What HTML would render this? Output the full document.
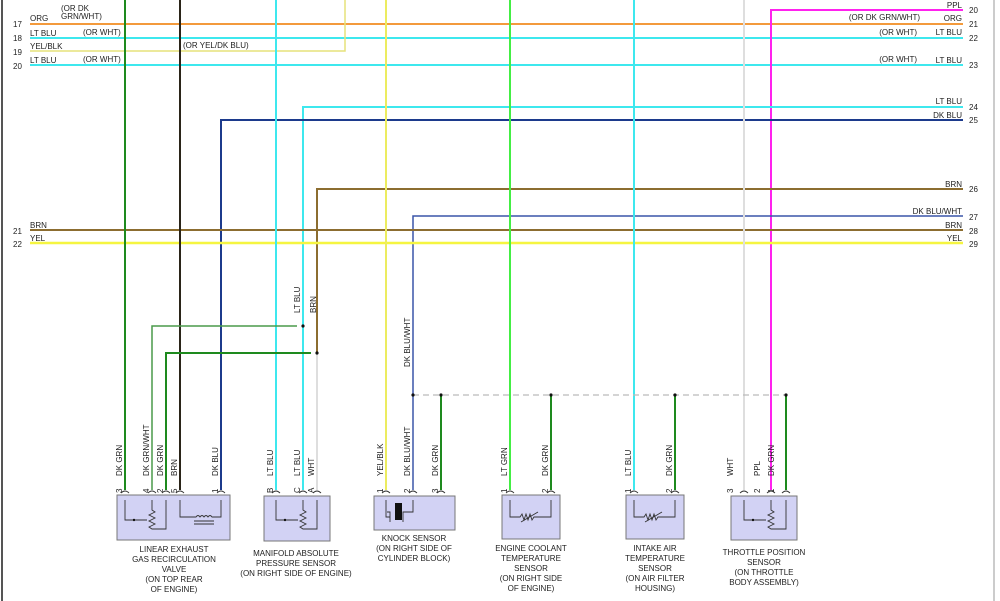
<!DOCTYPE html>
<html><head><meta charset="utf-8"><style>
html,body{margin:0;padding:0;background:#fff}
svg{display:block}
text{font-family:"Liberation Sans",sans-serif;font-size:8px;fill:#222}
.c{text-anchor:middle}
.r{text-anchor:end}
</style></head><body>
<svg width="1000" height="601" viewBox="0 0 1000 601" xmlns="http://www.w3.org/2000/svg">
<rect x="0" y="0" width="1000" height="601" fill="#fff"/>
<line x1="2" y1="0" x2="2" y2="601" stroke="#555" stroke-width="2"/>
<line x1="994" y1="0" x2="994" y2="601" stroke="#bbb" stroke-width="1.5"/>

<g stroke-width="2" fill="none">
<line x1="30" y1="24" x2="963" y2="24" stroke="#f39a3c"/>
<line x1="30" y1="38" x2="963" y2="38" stroke="#3ee8ee"/>
<polyline points="30,51 345,51 345,0" stroke="#e6e27a" stroke-width="1.5"/>
<line x1="30" y1="65" x2="963" y2="65" stroke="#3ee8ee"/>
<polyline points="771,490 771,10 963,10" stroke="#ff22ee"/>
<polyline points="303,490 303,107 963,107" stroke="#3ee8ee"/>
<polyline points="221,490 221,120 963,120" stroke="#1c3a8c"/>
<polyline points="317,353 317,189 963,189" stroke="#8c6d30"/>
<polyline points="413,395 413,216 963,216" stroke="#3a55a8" stroke-width="1.5"/>
<line x1="30" y1="230" x2="963" y2="230" stroke="#8c6d30"/>
<line x1="30" y1="243" x2="963" y2="243" stroke="#f5f540" stroke-width="2.5"/>
</g>
<g stroke-width="2" fill="none">
<line x1="125" y1="0" x2="125" y2="490" stroke="#1e8a1e"/>
<line x1="180" y1="0" x2="180" y2="490" stroke="#2a2418"/>
<line x1="276" y1="0" x2="276" y2="490" stroke="#3ee8ee"/>
<line x1="317" y1="353" x2="317" y2="490" stroke="#dedede"/>
<line x1="386" y1="0" x2="386" y2="490" stroke="#ecec60"/>
<line x1="413" y1="395" x2="413" y2="490" stroke="#3a55a8" stroke-width="1.5"/>
<line x1="441" y1="395" x2="441" y2="490" stroke="#1e8a1e"/>
<line x1="510" y1="0" x2="510" y2="490" stroke="#44ee44"/>
<line x1="551" y1="395" x2="551" y2="490" stroke="#1e8a1e"/>
<line x1="634" y1="0" x2="634" y2="490" stroke="#3ee8ee"/>
<line x1="675" y1="395" x2="675" y2="490" stroke="#1e8a1e"/>
<line x1="744" y1="0" x2="744" y2="490" stroke="#dedede"/>
<line x1="786" y1="395" x2="786" y2="490" stroke="#1e8a1e"/>
<polyline points="297,326 152,326 152,490" stroke="#4a9a4a" stroke-width="1.5"/>
<polyline points="311,353 166,353 166,490" stroke="#1e8a1e"/>
</g>
<line x1="413" y1="395" x2="786" y2="395" stroke="#bbb" stroke-width="1.3" stroke-dasharray="6,4"/>
<g fill="#111">
<circle cx="303" cy="326" r="1.6"/><circle cx="317" cy="353" r="1.6"/>
<circle cx="413" cy="395" r="1.6"/><circle cx="441" cy="395" r="1.6"/><circle cx="551" cy="395" r="1.6"/><circle cx="675" cy="395" r="1.6"/><circle cx="786" cy="395" r="1.6"/>
</g>

<text x="13" y="27">17</text><text x="30" y="21">ORG</text>
<text x="61" y="11">(OR DK</text><text x="61" y="19">GRN/WHT)</text>
<text x="13" y="41">18</text><text x="30" y="36">LT BLU</text><text x="83" y="35">(OR WHT)</text>
<text x="13" y="55">19</text><text x="30" y="49">YEL/BLK</text><text x="183" y="48">(OR YEL/DK BLU)</text>
<text x="13" y="69">20</text><text x="30" y="63">LT BLU</text><text x="83" y="62">(OR WHT)</text>
<text x="13" y="234">21</text><text x="30" y="228">BRN</text>
<text x="13" y="247">22</text><text x="30" y="241">YEL</text>
<text x="969" y="13">20</text><text class="r" x="962" y="8">PPL</text>
<text x="969" y="27">21</text><text class="r" x="962" y="21">ORG</text><text class="r" x="920" y="20">(OR DK GRN/WHT)</text>
<text x="969" y="41">22</text><text class="r" x="962" y="35">LT BLU</text><text class="r" x="917" y="35">(OR WHT)</text>
<text x="969" y="68">23</text><text class="r" x="962" y="63">LT BLU</text><text class="r" x="917" y="62">(OR WHT)</text>
<text x="969" y="110">24</text><text class="r" x="962" y="104">LT BLU</text>
<text x="969" y="123">25</text><text class="r" x="962" y="118">DK BLU</text>
<text x="969" y="192">26</text><text class="r" x="962" y="187">BRN</text>
<text x="969" y="220">27</text><text class="r" x="962" y="214">DK BLU/WHT</text>
<text x="969" y="234">28</text><text class="r" x="962" y="228">BRN</text>
<text x="969" y="247">29</text><text class="r" x="962" y="241">YEL</text>

<text transform="translate(300,313) rotate(-90)">LT BLU</text>
<text transform="translate(316,313) rotate(-90)">BRN</text>
<text transform="translate(410,367) rotate(-90)">DK BLU/WHT</text>

<g>
<text transform="translate(122,476) rotate(-90)">DK GRN</text>
<text transform="translate(149,476) rotate(-90)">DK GRN/WHT</text>
<text transform="translate(163,476) rotate(-90)">DK GRN</text>
<text transform="translate(177,476) rotate(-90)">BRN</text>
<text transform="translate(218,476) rotate(-90)">DK BLU</text>
<text transform="translate(273,476) rotate(-90)">LT BLU</text>
<text transform="translate(300,476) rotate(-90)">LT BLU</text>
<text transform="translate(314,476) rotate(-90)">WHT</text>
<text transform="translate(383,476) rotate(-90)">YEL/BLK</text>
<text transform="translate(410,476) rotate(-90)">DK BLU/WHT</text>
<text transform="translate(438,476) rotate(-90)">DK GRN</text>
<text transform="translate(507,476) rotate(-90)">LT GRN</text>
<text transform="translate(548,476) rotate(-90)">DK GRN</text>
<text transform="translate(631,476) rotate(-90)">LT BLU</text>
<text transform="translate(672,476) rotate(-90)">DK GRN</text>
<text transform="translate(733,476) rotate(-90)">WHT</text>
<text transform="translate(760,476) rotate(-90)">PPL</text>
<text transform="translate(774,476) rotate(-90)">DK GRN</text>
</g>
<g>
<text transform="translate(122,493) rotate(-90)">3</text>
<text transform="translate(149,493) rotate(-90)">4</text>
<text transform="translate(163,493) rotate(-90)">2</text>
<text transform="translate(177,493) rotate(-90)">5</text>
<text transform="translate(218,493) rotate(-90)">1</text>
<text transform="translate(273,493) rotate(-90)">B</text>
<text transform="translate(300,493) rotate(-90)">C</text>
<text transform="translate(314,493) rotate(-90)">A</text>
<text transform="translate(383,493) rotate(-90)">1</text>
<text transform="translate(410,493) rotate(-90)">2</text>
<text transform="translate(438,493) rotate(-90)">3</text>
<text transform="translate(507,493) rotate(-90)">1</text>
<text transform="translate(548,493) rotate(-90)">2</text>
<text transform="translate(631,493) rotate(-90)">1</text>
<text transform="translate(672,493) rotate(-90)">2</text>
<text transform="translate(733,493) rotate(-90)">3</text>
<text transform="translate(760,493) rotate(-90)">2</text>
<text transform="translate(774,493) rotate(-90)">1</text>
</g>

<g fill="#d2d2f4" stroke="#777" stroke-width="1">
<rect x="117" y="495" width="113" height="45"/>
<rect x="264" y="496" width="66" height="45"/>
<rect x="374" y="496" width="81" height="34"/>
<rect x="502" y="495" width="58" height="44"/>
<rect x="626" y="495" width="58" height="44"/>
<rect x="731" y="496" width="66" height="44"/>
</g>
<g fill="none" stroke="#333" stroke-width="0.9">
<path d="M121,493 q4,-4 8,0 M148,493 q4,-4 8,0 M162,493 q4,-4 8,0 M176,493 q4,-4 8,0 M217,493 q4,-4 8,0 M272,493 q4,-4 8,0 M299,493 q4,-4 8,0 M313,493 q4,-4 8,0 M382,493 q4,-4 8,0 M409,493 q4,-4 8,0 M437,493 q4,-4 8,0 M506,493 q4,-4 8,0 M547,493 q4,-4 8,0 M630,493 q4,-4 8,0 M671,493 q4,-4 8,0 M740,493 q4,-4 8,0 M767,493 q4,-4 8,0 M782,493 q4,-4 8,0"/>
<path d="M125,500 V520 H147 M152,500 V510 l3,2 -6,3 6,3 -6,3 6,3 -6,3 3,2 H166 V500"/>
<path d="M180,500 V517 H196 q2,-3 4,0 q2,-3 4,0 q2,-3 4,0 q2,-3 4,0 H221 V500 M194,521 H214 M194,524 H214"/>
<path d="M276,500 V520 H298 M303,500 V510 l3,2 -6,3 6,3 -6,3 6,3 -6,3 3,2 H317 V500"/>
<path d="M386,500 V517 H390 M387,512 H390 V522 M413,500 V512 H403 V522"/>
<path d="M510,500 V517 H520 l2,-3 2,6 2,-6 2,6 2,-6 2,6 2,-3 H551 V500 M521,522 L538,512"/>
<path d="M634,500 V517 H644 l2,-3 2,6 2,-6 2,6 2,-6 2,6 2,-3 H675 V500 M645,522 L662,512"/>
<path d="M744,500 V520 H766 M771,500 V510 l3,2 -6,3 6,3 -6,3 6,3 -6,3 3,2 H786 V500"/>
</g>
<rect x="395" y="503" width="7" height="17" fill="#111"/>
<g fill="#111"><circle cx="134" cy="520" r="1.2"/><circle cx="285" cy="520" r="1.2"/><circle cx="753" cy="520" r="1.2"/></g>

<g>
<text class="c" x="174" y="552">LINEAR EXHAUST</text>
<text class="c" x="174" y="562">GAS RECIRCULATION</text>
<text class="c" x="174" y="572">VALVE</text>
<text class="c" x="174" y="582">(ON TOP REAR</text>
<text class="c" x="174" y="592">OF ENGINE)</text>
<text class="c" x="296" y="556">MANIFOLD ABSOLUTE</text>
<text class="c" x="296" y="566">PRESSURE SENSOR</text>
<text class="c" x="296" y="576">(ON RIGHT SIDE OF ENGINE)</text>
<text class="c" x="414" y="541">KNOCK SENSOR</text>
<text class="c" x="414" y="551">(ON RIGHT SIDE OF</text>
<text class="c" x="414" y="561">CYLINDER BLOCK)</text>
<text class="c" x="531" y="551">ENGINE COOLANT</text>
<text class="c" x="531" y="561">TEMPERATURE</text>
<text class="c" x="531" y="571">SENSOR</text>
<text class="c" x="531" y="581">(ON RIGHT SIDE</text>
<text class="c" x="531" y="591">OF ENGINE)</text>
<text class="c" x="655" y="551">INTAKE AIR</text>
<text class="c" x="655" y="561">TEMPERATURE</text>
<text class="c" x="655" y="571">SENSOR</text>
<text class="c" x="655" y="581">(ON AIR FILTER</text>
<text class="c" x="655" y="591">HOUSING)</text>
<text class="c" x="764" y="555">THROTTLE POSITION</text>
<text class="c" x="764" y="565">SENSOR</text>
<text class="c" x="764" y="575">(ON THROTTLE</text>
<text class="c" x="764" y="585">BODY ASSEMBLY)</text>
</g>
</svg>
</body></html>
